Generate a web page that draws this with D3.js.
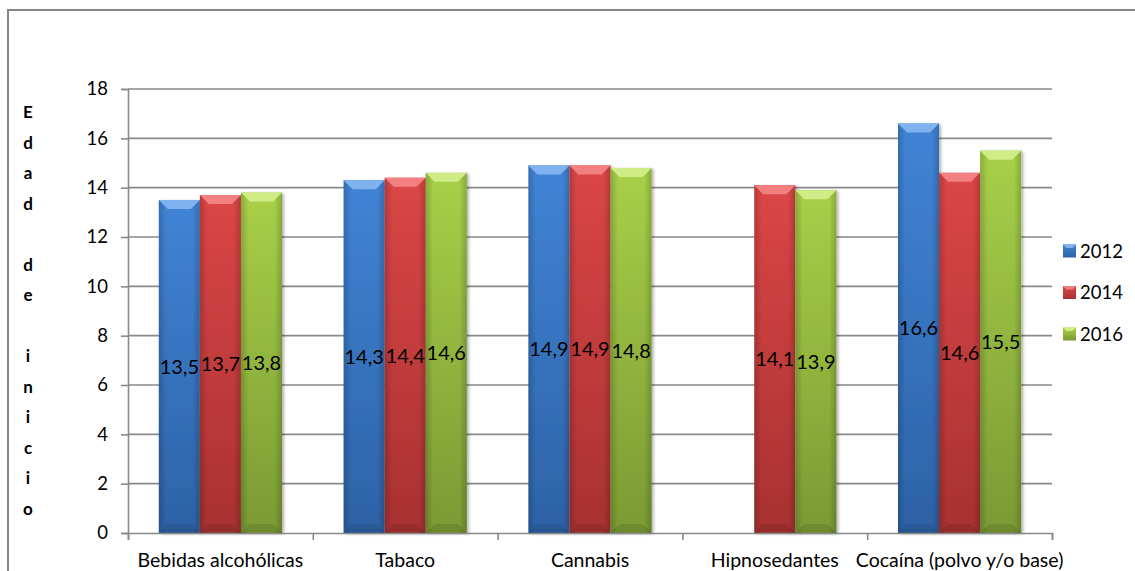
<!DOCTYPE html>
<html>
<head>
<meta charset="utf-8">
<script src="https://d3js.org/d3.v7.min.js"></script>
<style>
  body { margin: 0; background: #fff; }
  svg { display: block; font-family: Lato, "Open Sans", sans-serif; }
</style>
</head>
<body>
<svg width="1135" height="571"></svg>
<script>
// data ======================================================
var categories = ["Bebidas alcohólicas", "Tabaco", "Cannabis", "Hipnosedantes", "Cocaína (polvo y/o base)"];
var years = ["2012", "2014", "2016"];
var values2012 = [13.5, 14.3, 14.9, null, 16.6];
var values2014 = [13.7, 14.4, 14.9, 14.1, 14.6];
var values2016 = [13.8, 14.6, 14.8, 13.9, 15.5];
var yTicks = [0, 2, 4, 6, 8, 10, 12, 14, 16, 18];
var yTitle = "Edad de inicio";

var seriesValues = [values2012, values2014, values2016];

// colours: [top of body, bottom of body, bevel]
var palette = {
  "2012": ["#4184d6", "#2d62a6", "#7fb2ee"],
  "2014": ["#dc4646", "#a83131", "#f28080"],
  "2016": ["#a8d048", "#7a9a34", "#cfec86"]
};

var svg = d3.select("svg"),
    width = +svg.attr("width"),
    height = +svg.attr("height");

// plot area (note: "top" is reserved on window)
var plotLeft = 128, plotRight = 1052, plotTop = 89, plotBottom = 533;

// scales
var x0 = d3.scaleBand().domain(categories).range([plotLeft, plotRight])
    .paddingInner(1 / 3).paddingOuter(1 / 6);
var x1 = d3.scaleBand().domain(years).range([0, x0.bandwidth()]);
var y = d3.scaleLinear().domain([0, 18]).range([plotBottom, plotTop]);
var xEdge = d3.scaleLinear().domain([0, categories.length]).range([plotLeft, plotRight]);

// gradients
var defs = svg.append("defs");
years.forEach(function(yr) {
  var g = defs.append("linearGradient").attr("id", "body" + yr)
      .attr("x1", 0).attr("y1", 0).attr("x2", 0).attr("y2", 1);
  g.append("stop").attr("offset", "0%").attr("stop-color", palette[yr][0]);
  g.append("stop").attr("offset", "100%").attr("stop-color", palette[yr][1]);
});
var side = defs.append("linearGradient").attr("id", "sideShade")
    .attr("x1", 0).attr("y1", 0).attr("x2", 1).attr("y2", 0);
side.append("stop").attr("offset", "0%").attr("stop-color", "#000").attr("stop-opacity", 0.18);
side.append("stop").attr("offset", "18%").attr("stop-color", "#000").attr("stop-opacity", 0);
side.append("stop").attr("offset", "82%").attr("stop-color", "#000").attr("stop-opacity", 0);
side.append("stop").attr("offset", "100%").attr("stop-color", "#000").attr("stop-opacity", 0.18);

var shadow = defs.append("filter").attr("id", "shadow")
    .attr("x", "-20%").attr("y", "-5%").attr("width", "150%").attr("height", "115%");
shadow.append("feDropShadow").attr("dx", 2).attr("dy", 1).attr("stdDeviation", 1.5)
    .attr("flood-color", "#000").attr("flood-opacity", 0.3);

// chart border
svg.append("rect")
    .attr("x", 8).attr("y", 10)
    .attr("width", width + 20).attr("height", height + 20)
    .attr("fill", "none").attr("stroke", "#868686").attr("stroke-width", 2);

// gridlines
svg.append("g").attr("class", "grid")
  .selectAll("line")
  .data(yTicks.filter(function(d) { return d > 0; }))
  .enter().append("line")
    .attr("x1", plotLeft).attr("x2", plotRight)
    .attr("y1", function(d) { return y(d); })
    .attr("y2", function(d) { return y(d); })
    .attr("stroke", "#898989").attr("stroke-width", 1.6);

// y axis
var yAxis = svg.append("g")
    .attr("transform", "translate(" + plotLeft + ",0)")
    .call(d3.axisLeft(y).tickValues(yTicks).tickSize(7).tickPadding(13));
yAxis.select(".domain").attr("stroke", "#898989").attr("stroke-width", 1.6);
yAxis.selectAll(".tick line").attr("stroke", "#898989").attr("stroke-width", 1.6);
yAxis.selectAll("text").attr("font-size", 18.5).attr("fill", "#000")
    .attr("font-family", "Lato, sans-serif");

// bars
var groups = svg.append("g").attr("class", "bars")
  .selectAll("g")
  .data(categories)
  .enter().append("g")
    .attr("transform", function(d) { return "translate(" + x0(d) + ",0)"; });

var bars = groups.selectAll("g.bar")
  .data(function(c, i) {
    return years.map(function(yr, s) { return {cat: c, year: yr, value: seriesValues[s][i]}; })
      .filter(function(d) { return d.value != null; });
  })
  .enter().append("g")
    .attr("class", "bar")
    .attr("transform", function(d) { return "translate(" + x1(d.year) + ",0)"; });

var bw = x1.bandwidth();
var bev = 9;

bars.append("rect")
    .attr("x", 0).attr("width", bw)
    .attr("y", function(d) { return y(d.value); })
    .attr("height", function(d) { return y(0) - y(d.value); })
    .attr("fill", function(d) { return "url(#body" + d.year + ")"; })
    .attr("filter", "url(#shadow)");
bars.append("rect")
    .attr("x", 0).attr("width", bw)
    .attr("y", function(d) { return y(d.value); })
    .attr("height", function(d) { return y(0) - y(d.value); })
    .attr("fill", "url(#sideShade)");
// top bevel
bars.append("path")
    .attr("d", function(d) {
      var t = y(d.value);
      return "M0," + t + "L" + bw + "," + t + "L" + (bw - bev) + "," + (t + bev) +
             "L" + bev + "," + (t + bev) + "Z";
    })
    .attr("fill", function(d) { return palette[d.year][2]; });
// bottom bevel
bars.append("path")
    .attr("d", function(d) {
      var b = y(0);
      return "M0," + b + "L" + bw + "," + b + "L" + (bw - bev) + "," + (b - bev) +
             "L" + bev + "," + (b - bev) + "Z";
    })
    .attr("fill", "#000").attr("fill-opacity", 0.1);

// data labels (centered)
bars.append("text")
    .attr("x", bw / 2)
    .attr("y", function(d) { return y(d.value / 2); })
    .attr("dy", "0.36em")
    .attr("text-anchor", "middle")
    .attr("font-size", 20)
    .attr("fill", "#000")
    .text(function(d) { return d3.format(".1f")(d.value).replace(".", ","); });

// x axis
var xAxis = svg.append("g")
    .attr("transform", "translate(0," + plotBottom + ")")
    .call(d3.axisBottom(xEdge).tickValues(d3.range(0, categories.length + 1)).tickSize(7).tickFormat(""));
xAxis.select(".domain").attr("stroke", "#898989").attr("stroke-width", 1.6);
xAxis.selectAll(".tick line").attr("stroke", "#898989").attr("stroke-width", 1.6);

svg.append("g").attr("class", "xlabels")
  .selectAll("text")
  .data(categories)
  .enter().append("text")
    .attr("x", function(d) { return x0(d) + x0.bandwidth() / 2; })
    .attr("y", 567)
    .attr("text-anchor", "middle")
    .attr("font-size", 19.5)
    .attr("fill", "#000")
    .text(function(d) { return d; });

// vertical title, one letter per line
svg.append("g").attr("class", "ytitle")
  .selectAll("text")
  .data(yTitle.split(""))
  .enter().append("text")
    .attr("x", 28)
    .attr("y", function(d, i) { return 112 + i * 30.5; })
    .attr("dy", "0.36em")
    .attr("text-anchor", "middle")
    .attr("font-size", 17)
    .attr("font-weight", "bold")
    .attr("fill", "#000")
    .text(function(d) { return d; });

// legend
var legend = svg.append("g").attr("class", "legend")
  .selectAll("g")
  .data(years)
  .enter().append("g")
    .attr("transform", function(d, i) { return "translate(1063," + (251 + i * 41.5) + ")"; });
legend.append("rect")
    .attr("x", 0).attr("y", -6.5).attr("width", 13).attr("height", 13)
    .attr("fill", function(d) { return "url(#body" + d + ")"; });
legend.append("path")
    .attr("d", "M0,-6.5L13,-6.5L9.5,-3L3.5,-3Z")
    .attr("fill", function(d) { return palette[d][2]; });
legend.append("text")
    .attr("x", 17).attr("dy", "0.36em")
    .attr("font-size", 18.5)
    .attr("fill", "#000")
    .text(function(d) { return d; });
</script>
</body>
</html>
